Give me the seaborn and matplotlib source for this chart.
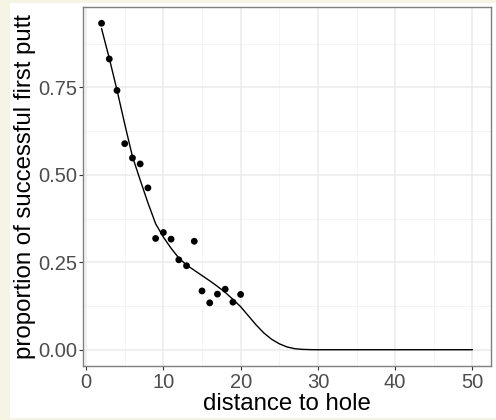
import matplotlib
matplotlib.use("Agg")
import matplotlib.pyplot as plt
import seaborn as sns
import pandas as pd
from matplotlib.patches import Rectangle

# observed data
distance = [2, 3, 4, 5, 6, 7, 8, 9, 10, 11, 12, 13, 14, 15, 16, 17, 18, 19, 20]
proportion = [0.933, 0.831, 0.741, 0.589, 0.548, 0.531, 0.4625, 0.318, 0.335,
              0.316, 0.257, 0.240, 0.310, 0.168, 0.134, 0.159, 0.173, 0.136, 0.158]

# fitted curve
curve_x = [2, 3, 4, 5, 6, 7, 8, 9, 10, 11, 12, 13, 14, 15, 16, 17, 18, 19, 20,
           21, 22, 23, 24, 25, 26, 27, 28, 29, 30, 35, 40, 45, 50]
curve_y = [0.918, 0.833, 0.742, 0.645, 0.552, 0.485, 0.420, 0.360, 0.322,
           0.290, 0.262, 0.242, 0.227, 0.212, 0.197, 0.181, 0.164, 0.144, 0.123,
           0.097, 0.071, 0.048, 0.030, 0.017, 0.008, 0.003, 0.001, 0.0003, 0.0,
           0.0, 0.0, 0.0, 0.0]

x_ticks = [0, 10, 20, 30, 40, 50]
y_ticks = [0.00, 0.25, 0.50, 0.75]
y_tick_labels = ["0.00", "0.25", "0.50", "0.75"]

pts = pd.DataFrame({"distance": distance, "proportion": proportion})
fit = pd.DataFrame({"x": curve_x, "y": curve_y})

sns.set_style("white")
plt.rcParams["font.family"] = ["Liberation Sans", "DejaVu Sans"]

cream = "#F6F4E4"
fig = plt.figure(figsize=(4.96, 4.20), dpi=100, facecolor=cream)
bg = Rectangle((10 / 496, 2 / 420), 1 - 10 / 496, 415 / 420,
               transform=fig.transFigure, facecolor="white",
               edgecolor="none", zorder=-10)
fig.add_artist(bg)
ax = fig.add_axes([83 / 496, 54 / 420, (491 - 83) / 496, (366 - 7) / 420])
ax.set_zorder(5)
ax.set_facecolor("white")

# grid
for v in [5, 15, 25, 35, 45]:
    ax.axvline(v, color="#F4F4F4", lw=0.6, zorder=0)
for v in [0.125, 0.375, 0.625, 0.875]:
    ax.axhline(v, color="#F4F4F4", lw=0.6, zorder=0)
for v in x_ticks:
    ax.axvline(v, color="#EBEBEB", lw=1.1, zorder=0)
for v in y_ticks:
    ax.axhline(v, color="#EBEBEB", lw=1.1, zorder=0)

sns.lineplot(data=fit, x="x", y="y", ax=ax, color="black", lw=1.0, zorder=3)
sns.scatterplot(data=pts, x="distance", y="proportion", ax=ax, color="black",
                s=24, edgecolor="none", zorder=4)

ax.set_xlim(-0.4, 52.4)
ax.set_ylim(-0.0465, 0.9795)
ax.set_xticks(x_ticks)
ax.set_xticklabels([str(v) for v in x_ticks])
ax.set_yticks(y_ticks)
ax.set_yticklabels(y_tick_labels)
ax.tick_params(axis="both", which="major", length=2.9, width=0.8, color="#333333",
               labelsize=14.5, labelcolor="#4D4D4D", pad=1.5, direction="out",
               bottom=True, left=True)
ax.tick_params(axis="x", pad=2)
for s in ax.spines.values():
    s.set_color("#7F7F7F")
    s.set_linewidth(1.0)
ax.set_xlabel("distance to hole", fontsize=17.3, color="black", labelpad=0)
ax.set_ylabel("proportion of successful first putt", fontsize=17.3, color="black")
ax.yaxis.set_label_coords(-0.115, 0.5)
ax.xaxis.set_label_coords(0.5, -0.075)

fig.savefig("out.png", dpi=100, facecolor=cream)
